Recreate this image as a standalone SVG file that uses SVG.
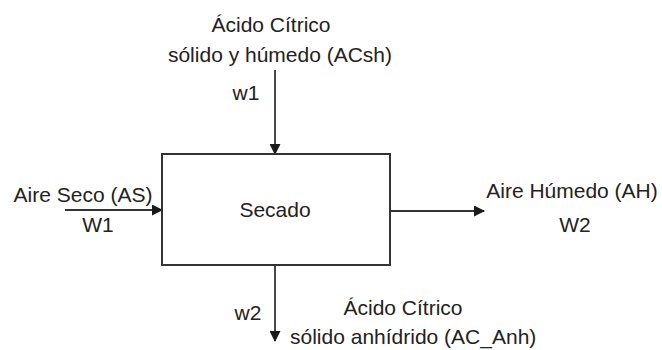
<svg xmlns="http://www.w3.org/2000/svg" width="662" height="350" viewBox="0 0 662 350">
<defs>
<style>
text{font-family:"Liberation Sans",Arial,sans-serif;font-size:21px;fill:#222;text-anchor:middle}
.edge{stroke:#333;stroke-width:1.8;fill:none}
.box{fill:#fff;stroke:#333;stroke-width:2}
</style>
<marker id="arr" markerWidth="11" markerHeight="11" refX="10" refY="5.5" orient="auto" markerUnits="userSpaceOnUse"><path d="M0,0 L11,5.5 L0,11 Z" fill="#1a1a1a"/></marker>
</defs>
<rect width="662" height="350" fill="#fff"/>
<g id="connectors">
<line class="edge" x1="275" y1="70" x2="275" y2="154" marker-end="url(#arr)"/>
<line class="edge" x1="65" y1="210" x2="162" y2="210" marker-end="url(#arr)"/>
<line class="edge" x1="390" y1="211" x2="484" y2="211" marker-end="url(#arr)"/>
<line class="edge" x1="275" y1="265" x2="275" y2="341" marker-end="url(#arr)"/>
</g>
<g id="secado">
<rect class="box" x="162" y="154" width="228" height="111"/>
<text x="275" y="217">Secado</text>
</g>
<g id="input-acsh">
<text x="271" y="32">Ácido Cítrico</text>
<text x="280" y="62">sólido y húmedo (ACsh)</text>
<text x="246" y="100">w1</text>
</g>
<g id="input-as">
<text x="83" y="202">Aire Seco (AS)</text>
<text x="98" y="232">W1</text>
</g>
<g id="output-ah">
<text x="572" y="198">Aire Húmedo (AH)</text>
<text x="575" y="232">W2</text>
</g>
<g id="output-acanh">
<text x="248" y="320">w2</text>
<text x="403" y="315">Ácido Cítrico</text>
<text x="290" y="344" style="text-anchor:start">sólido anhídrido (AC_Anh)</text>
</g>
</svg>
